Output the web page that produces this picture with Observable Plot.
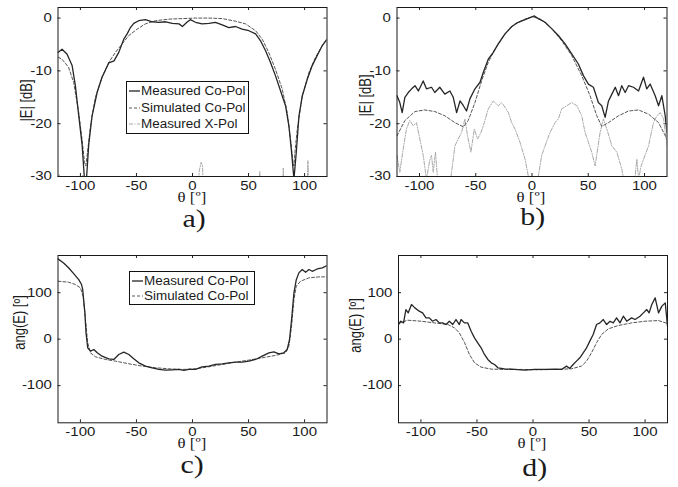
<!DOCTYPE html>
<html>
<head>
<meta charset="utf-8">
<script src="https://cdn.jsdelivr.net/npm/d3@7"></script>
<script src="https://cdn.jsdelivr.net/npm/@observablehq/plot@0.6"></script>
<style>
  html, body { margin: 0; padding: 0; background: #fff; }
  #root { position: relative; width: 678px; height: 487px; overflow: hidden; background: #fff; }
  .panel { position: absolute; }
  .lbl { position: absolute; white-space: nowrap; color: #1a1a1a; }
  .serif { font-family: "Liberation Serif", "Times New Roman", serif; }
  .sans { font-family: "Liberation Sans", Arial, sans-serif; }
  .legend { position: absolute; background: #fff; border: 1px solid #111; box-sizing: border-box; }
  .legend .row { position: absolute; left: 0; height: 14px; display: flex; align-items: center; }
  .legend .row span { font-family: "Liberation Sans", Arial, sans-serif; font-size: 12px; color: #1a1a1a; display: inline-block; transform-origin: left center; transform: scaleX(1.12); white-space: nowrap; }
</style>
</head>
<body>
<div id="root"></div>
<script>
// ---------- data ----------
const thetaTicks = [-100, -50, 0, 50, 100];
const dbTicks = [-30, -20, -10, 0];
const angTicks = [-100, 0, 100];
const thetaDomain = [-120, 120];
const dbDomain = [-30, 2];
const angDomain = [-180, 180];

// a) |E| [dB]
const aMeasured = [[-120,-6.5],[-116.4,-5.9],[-112,-6.8],[-107.4,-9],[-104.5,-12.8],[-101.5,-18.5],[-98.5,-24],[-96.4,-30.5],[-94.6,-30.5],[-92.6,-24],[-89.6,-18.5],[-85,-14],[-80.7,-11.2],[-74.7,-8.5],[-70,-8.1],[-65.8,-6.5],[-61.3,-4],[-58.3,-3],[-55.4,-1.8],[-52.4,-1],[-48,-0.5],[-42,-0.3],[-36,-0.7],[-30,-0.8],[-24,-0.7],[-18,-1.0],[-12,-1.1],[-9,-1.6],[-5,-0.8],[-2,-0.3],[2.7,-0.8],[8.6,-1.1],[14.6,-1],[20.5,-0.8],[26.5,-1.3],[32.4,-1.8],[38.4,-1.6],[44.3,-2.1],[50.3,-2.4],[56.3,-3],[60.7,-4.3],[65.2,-6.2],[69.6,-8.4],[74,-10.9],[78.6,-13.8],[83,-16.6],[86,-20.4],[88.4,-25.4],[90.5,-30.5],[92.6,-25.4],[95,-18.5],[98,-14.7],[102.4,-11.6],[106.8,-9],[111.3,-7.1],[115.8,-5.2],[120,-4]];
const aSimulated = [[-120,-7.4],[-116.4,-7.8],[-110.6,-9.3],[-106,-12.2],[-101.5,-17.9],[-98.5,-23],[-96.4,-27.3],[-95.2,-28],[-94,-26],[-91,-20.4],[-86.6,-15],[-80.7,-11.2],[-74.7,-8.4],[-68.8,-6.5],[-62.8,-4.9],[-56.8,-3.3],[-49.4,-2.1],[-42,-1.1],[-33,-0.5],[-21,-0.2],[-9,-0.1],[2.7,0],[14.6,0],[26.5,-0.1],[38.4,-0.6],[47.3,-1.1],[56.3,-2.4],[62.2,-4],[68,-6.5],[74,-9.7],[80,-13.4],[84.5,-17.9],[87.5,-23],[89.6,-27.3],[90.5,-28],[91.4,-25.4],[93.5,-21],[98,-14.7],[103.9,-10.3],[109.8,-7.4],[115.8,-5.2],[120,-4]];
const aCross = [[-120,-40],[-119,-29.6],[-117.5,-40],[-99.5,-40],[-98,-29.8],[-96.5,-40],[4,-40],[6,-29],[7.7,-27.3],[9,-28],[10.5,-40],[59,-40],[60,-29],[61,-40],[79.5,-40],[81,-28.4],[82.5,-40],[101,-40],[103,-27],[105,-40],[120,-40]];

// b) |E| [dB]
const bMeasured = [[-120,-14.7],[-117.5,-16],[-115.4,-17.9],[-113,-15],[-110,-14.1],[-107,-13.4],[-104,-12.8],[-101,-13.8],[-96.7,-11.9],[-93.8,-13.4],[-89.3,-13.1],[-86.4,-14.1],[-82,-13.1],[-77.5,-14.4],[-73,-13.8],[-70,-15],[-67,-17.9],[-64,-15.7],[-61,-16.6],[-58.2,-17.6],[-55.2,-15.3],[-50.7,-13.4],[-46.3,-12.2],[-43.3,-10.3],[-38.9,-7.8],[-34.4,-6.5],[-30,-4.9],[-24,-3],[-18,-1.6],[-12.2,-0.8],[-6.2,-0.3],[-1.8,0.1],[2.1,0.4],[5.6,-0.1],[11.6,-0.8],[17.5,-2],[23.4,-3.3],[29.4,-4.9],[35.3,-6.8],[41.2,-8.7],[45.7,-10.9],[50.1,-12.5],[54.6,-13.1],[59,-16],[62,-16.6],[65,-18.8],[68,-15.7],[71,-14.4],[74,-13.1],[76.9,-14.7],[79.8,-12.8],[82.8,-14.1],[85.8,-12.8],[90.2,-13.1],[94.7,-13.8],[99.1,-11.2],[102,-13.4],[105,-12.5],[109.5,-14.7],[112.5,-16.6],[115.4,-14.7],[118.4,-18.5],[120,-21.7]];
const bSimulated = [[-120,-22.3],[-113,-19.4],[-104,-17.7],[-95.3,-17.4],[-86.4,-17.7],[-77.5,-18.5],[-68.5,-19.8],[-61,-20.6],[-56.7,-19.4],[-50.7,-16],[-44.8,-11.9],[-38.9,-8.4],[-33,-5.9],[-24,-3],[-15.2,-1.1],[-6.2,-0.2],[0.6,0.25],[8.6,-0.3],[17.5,-2],[26.4,-4.3],[35.3,-7.1],[44.2,-10.9],[51.6,-14.7],[57.6,-18.5],[62,-20.5],[68,-19.8],[76.9,-18.5],[85.8,-17.6],[94.7,-17.4],[103.6,-18.2],[112.5,-19.8],[120,-22.9]];
const bCross = [[-120,-26],[-117.5,-29.2],[-114.5,-24.8],[-111.6,-21],[-108.6,-19.4],[-105.6,-20.4],[-102.7,-19.8],[-99.7,-22.9],[-96.7,-26],[-93.8,-30.5],[-91,-27],[-89.3,-26],[-87.8,-29.2],[-85.8,-25.4],[-83.4,-32],[-73,-32],[-71.5,-29.2],[-68.5,-24.2],[-65.6,-22.9],[-62.6,-21.7],[-59.6,-19.1],[-57.3,-22.3],[-54.3,-25.4],[-51.3,-21],[-48.4,-22.9],[-45.4,-21.7],[-42.4,-19.8],[-38.9,-17.2],[-34.4,-15.7],[-30,-16.6],[-27,-16],[-24,-16.9],[-21,-17.9],[-18.1,-19.8],[-15.1,-21],[-10.7,-23.5],[-6.2,-26.7],[-3.3,-29.9],[-1.8,-32],[4.2,-32],[6.2,-29.2],[8.6,-26],[11.6,-24.2],[16,-21.7],[20.5,-19.8],[23.4,-19.1],[26.4,-17.2],[30.9,-16.6],[35.3,-16],[39.8,-16.6],[44.2,-18.5],[47.2,-21.7],[50.1,-23.5],[53.1,-25.4],[56.1,-28],[60.5,-21.7],[63.5,-19.1],[66.5,-21],[71,-24.2],[75.4,-25.4],[79.8,-28.6],[82.8,-32],[90.5,-32],[91.7,-29.9],[93.2,-26.7],[94.7,-30.5],[97,-28],[103.6,-24.2],[108,-19.8],[111,-18.5],[114,-17.9],[117,-19.1],[120,-24.2]];

// c) ang(E) [º]
const cMeasured = [[-120,172.7],[-115,164],[-110.4,153],[-106,141],[-101.5,128],[-99,117.5],[-98,107],[-96,56.6],[-95,13.6],[-93.5,-18.6],[-91,-25.7],[-88,-22.2],[-85,-29.4],[-80.7,-36.6],[-74.7,-42.3],[-70.2,-43.7],[-65.8,-33],[-61.3,-28],[-56.8,-33],[-52.4,-42.3],[-47.9,-50.9],[-42,-58],[-36,-61.6],[-30,-65.2],[-24,-66.6],[-18.2,-66],[-12.2,-65.2],[-7.7,-67.4],[-3.3,-65.2],[2.7,-65.2],[8.6,-59.5],[14.6,-58],[20.5,-54.5],[26.5,-53],[32.4,-50.9],[38.4,-49.5],[44.3,-49.5],[50.3,-47.3],[56.3,-43.7],[62.2,-36.6],[68.2,-29.4],[72.6,-27.2],[77.1,-31.5],[81.5,-29.4],[84.5,-22.2],[86.6,-0.8],[88.4,42.2],[90.5,99.6],[92.6,128],[94.9,142.6],[97.9,149.8],[100.9,144],[103.9,149.8],[106.8,146],[111.3,151],[115.8,153.4],[120,158.4]];
const cSimulated = [[-120,124.7],[-110.4,122.5],[-104.5,117.5],[-100,110.4],[-97.6,92.4],[-95.5,42.3],[-93.5,-7.9],[-91,-29.4],[-86.6,-38],[-77.7,-43.7],[-68.8,-47.3],[-56.8,-53],[-44.9,-58],[-33,-61.6],[-21.1,-63.8],[-9.2,-65.2],[2.7,-63.8],[14.6,-59.5],[26.5,-54.5],[38.4,-49.5],[50.3,-45.1],[62.2,-40.1],[74.1,-35],[83,-29.4],[86,-15],[88.4,28],[90.5,85.3],[92.6,114],[96.4,124.7],[103.9,131.9],[112.8,134],[120,134]];

// d) ang(E) [º]
const dMeasured = [[-120,31.5],[-118,38.6],[-115.5,35],[-113.4,63.7],[-111.3,56.6],[-108.4,74.5],[-105.4,67.3],[-101.5,60.2],[-98.5,56.6],[-95.5,45.8],[-92.5,45.8],[-89.6,38.6],[-86.6,42.2],[-83.6,35],[-80.6,35],[-77.6,31.5],[-74.6,38.6],[-71.6,31.5],[-68.7,42.2],[-65.7,31.5],[-64.2,42.2],[-61.2,35],[-58.2,35],[-55.2,17.1],[-52.2,2.8],[-49.3,-7.8],[-46.3,-18.6],[-43.3,-33],[-40.3,-43.7],[-37.3,-50.9],[-34.3,-54.5],[-31.3,-61.6],[-25.4,-63.8],[-16.4,-65.2],[-7.5,-66.7],[1.5,-65.2],[10.4,-65.2],[19.4,-64.5],[25.4,-65.2],[29.9,-58],[32.8,-63],[35.8,-54.5],[38.8,-47.3],[41.8,-40.1],[44.8,-29.4],[47.8,-18.6],[50.7,-4.3],[53.7,10],[56.7,31.5],[59.7,35],[62.7,42.2],[65.7,31.5],[68.7,38.6],[71.6,35],[74.6,45.8],[77.6,35],[80.6,49.4],[83.6,38.6],[88,45.8],[91,42.2],[95.5,49.4],[98.5,56.6],[101.5,63.7],[103.6,56.6],[106,74.5],[109,88.8],[112,56.6],[115,71],[118,78],[120,27.9]];
const dSimulated = [[-120,33.6],[-112,40.8],[-100,38.6],[-88,35],[-76,31.5],[-70,24.3],[-65.7,13.5],[-61,-7.8],[-56.7,-33],[-52.2,-50.9],[-46.3,-60.2],[-37.3,-64.5],[-25.4,-65.2],[-10.4,-65.2],[4.5,-66],[19.4,-65.2],[34.3,-63.8],[43.3,-58],[47.8,-47.3],[52.2,-29.4],[56.7,-7.8],[61.2,10],[67.2,22.2],[76.1,29.3],[88.1,35],[100,38.6],[112,40],[120,33.6]];

const legendLabels = ["Measured Co-Pol", "Simulated Co-Pol", "Measured X-Pol"];
const panelTags = ["a)", "b)", "c)", "d)"];
const xLabel = "θ [º]";
const yLabelMag = "|E| [dB]";
const yLabelAng = "ang(E) [º]";

// ---------- styles ----------
const STY = {
  meas: {stroke: "#262626", strokeWidth: 1.3},
  sim: {stroke: "#555", strokeWidth: 1, strokeDasharray: "3,2"},
  cross: {stroke: "#a8a8a8", strokeWidth: 1, strokeDasharray: "4,1.5,1,1.5"}
};

const root = document.getElementById("root");

// horizontally widen svg texts, keeping their existing translate
function stretchText(svg, factor) {
  svg.querySelectorAll("text").forEach(t => {
    const a = getComputedStyle(t).textAnchor;
    const attr = t.getAttribute("transform") || "";
    const m = attr.match(/translate\(\s*([-\d.e]+)[ ,]+([-\d.e]+)\s*\)/);
    const tr = m ? `translate(${m[1]}px, ${m[2]}px) ` : "";
    t.style.transformBox = "fill-box";
    t.style.transformOrigin = a === "end" ? "right center" : a === "start" ? "left center" : "center";
    t.style.transform = `${tr}scaleX(${factor})`;
  });
}

function makePanel(cfg) {
  const fw = cfg.w - cfg.mL - cfg.mR;
  const fh = cfg.h - cfg.mT - cfg.mB;
  const marks = [
    Plot.ruleX(thetaTicks, {x: d => d, insetTop: fh - 3, stroke: "#222"}),
    Plot.ruleX(thetaTicks, {x: d => d, insetBottom: fh - 3, stroke: "#222"}),
    Plot.ruleY(cfg.yTicks, {y: d => d, insetRight: fw - 3, stroke: "#222"}),
    Plot.ruleY(cfg.yTicks, {y: d => d, insetLeft: fw - 3, stroke: "#222"})
  ];
  for (const s of cfg.series) {
    marks.push(Plot.line(s.data, {x: d => d[0], y: d => d[1], ...STY[s.kind], clip: true}));
  }
  marks.push(Plot.frame({stroke: "#1a1a1a", strokeWidth: 1}));
  marks.push(Plot.axisX(thetaTicks, {tickSize: 0, tickPadding: 4.5, tickFormat: d => String(d), fill: "#1a1a1a"}));
  marks.push(Plot.axisY(cfg.yTicks, {tickSize: 0, tickPadding: 6, tickFormat: d => String(d), fill: "#1a1a1a"}));
  const svg = Plot.plot({
    width: cfg.w, height: cfg.h,
    marginLeft: cfg.mL, marginRight: cfg.mR, marginTop: cfg.mT, marginBottom: cfg.mB,
    x: {domain: thetaDomain, label: null},
    y: {domain: cfg.yDomain, label: null},
    style: {fontFamily: "'Liberation Sans', Arial, sans-serif", fontSize: "12px", background: "transparent", overflow: "visible", color: "#1a1a1a"},
    marks
  });
  const wrap = document.createElement("div");
  wrap.className = "panel";
  wrap.style.left = cfg.left + "px";
  wrap.style.top = cfg.top + "px";
  wrap.appendChild(svg);
  root.appendChild(wrap);
  stretchText(svg, 1.25);

  addLabel(xLabel, cfg.xl[0], cfg.xl[1], "serif", 14, 1.2, 0, 0.7);
  addLabel(cfg.tag, cfg.tg[0], cfg.tg[1], "serif", 26, 1.15, 0, 0.75);
  addLabel(cfg.ylabel, cfg.yl[0], cfg.yl[1], "sans", 13, 1.2, -90, 1);
}

function addLabel(text, cx, cy, fam, size, sx, rot, lh) {
  const el = document.createElement("div");
  el.className = "lbl " + fam;
  el.textContent = text;
  el.style.fontSize = size + "px";
  el.style.lineHeight = String(lh);
  el.style.transformOrigin = "center";
  root.appendChild(el);
  const w = el.offsetWidth, h = el.offsetHeight;
  el.style.left = (cx - w / 2) + "px";
  el.style.top = (cy - h / 2) + "px";
  el.style.transform = `scaleX(${sx}) rotate(${rot}deg)`;
}

function addLegend(box, rows, kinds) {
  const lg = document.createElement("div");
  lg.className = "legend";
  lg.style.left = box.x + "px";
  lg.style.top = box.y + "px";
  lg.style.width = box.w + "px";
  lg.style.height = box.h + "px";
  rows.forEach((label, i) => {
    const r = document.createElement("div");
    r.className = "row";
    r.style.top = (box.rowY[i] - 7 - 1) + "px";
    const ns = "http://www.w3.org/2000/svg";
    const s = document.createElementNS(ns, "svg");
    s.setAttribute("width", 12); s.setAttribute("height", 14);
    s.style.marginLeft = "2px";
    const ln = document.createElementNS(ns, "line");
    ln.setAttribute("x1", 0); ln.setAttribute("x2", 11); ln.setAttribute("y1", 7); ln.setAttribute("y2", 7);
    const st = STY[kinds[i]];
    ln.setAttribute("stroke", st.stroke);
    ln.setAttribute("stroke-width", st.strokeWidth);
    if (st.strokeDasharray) ln.setAttribute("stroke-dasharray", st.strokeDasharray);
    s.appendChild(ln);
    r.appendChild(s);
    const t = document.createElement("span");
    t.textContent = label;
    r.appendChild(t);
    lg.appendChild(r);
  });
  root.appendChild(lg);
}

makePanel({left: 0, top: 0, w: 339, h: 200, mL: 57.5, mR: 12.5, mT: 7, mB: 24,
  yDomain: dbDomain, yTicks: dbTicks, ylabel: yLabelMag, tag: panelTags[0],
  xl: [192, 198], tg: [194, 219], yl: [27, 100],
  series: [{data: aCross, kind: "cross"}, {data: aSimulated, kind: "sim"}, {data: aMeasured, kind: "meas"}]});
makePanel({left: 339, top: 0, w: 339, h: 200, mL: 57.5, mR: 11.5, mT: 7, mB: 24,
  yDomain: dbDomain, yTicks: dbTicks, ylabel: yLabelMag, tag: panelTags[1],
  xl: [531, 198], tg: [533, 217], yl: [366, 95],
  series: [{data: bCross, kind: "cross"}, {data: bSimulated, kind: "sim"}, {data: bMeasured, kind: "meas"}]});
makePanel({left: 0, top: 248, w: 339, h: 200, mL: 57.5, mR: 12.5, mT: 7, mB: 25.7,
  yDomain: angDomain, yTicks: angTicks, ylabel: yLabelAng, tag: panelTags[2],
  xl: [192, 443.5], tg: [192, 465], yl: [19, 322],
  series: [{data: cSimulated, kind: "sim"}, {data: cMeasured, kind: "meas"}]});
makePanel({left: 339, top: 248, w: 339, h: 200, mL: 59, mR: 11, mT: 7, mB: 25.7,
  yDomain: angDomain, yTicks: angTicks, ylabel: yLabelAng, tag: panelTags[3],
  xl: [532, 444], tg: [535, 468], yl: [355, 325],
  series: [{data: dSimulated, kind: "sim"}, {data: dMeasured, kind: "meas"}]});

addLegend({x: 126, y: 81, w: 123, h: 53, rowY: [10, 26.5, 42.5]}, legendLabels, ["meas", "sim", "cross"]);
addLegend({x: 129, y: 271, w: 126, h: 34, rowY: [9.5, 24.5]}, legendLabels.slice(0, 2), ["meas", "sim"]);
</script>
</body>
</html>
